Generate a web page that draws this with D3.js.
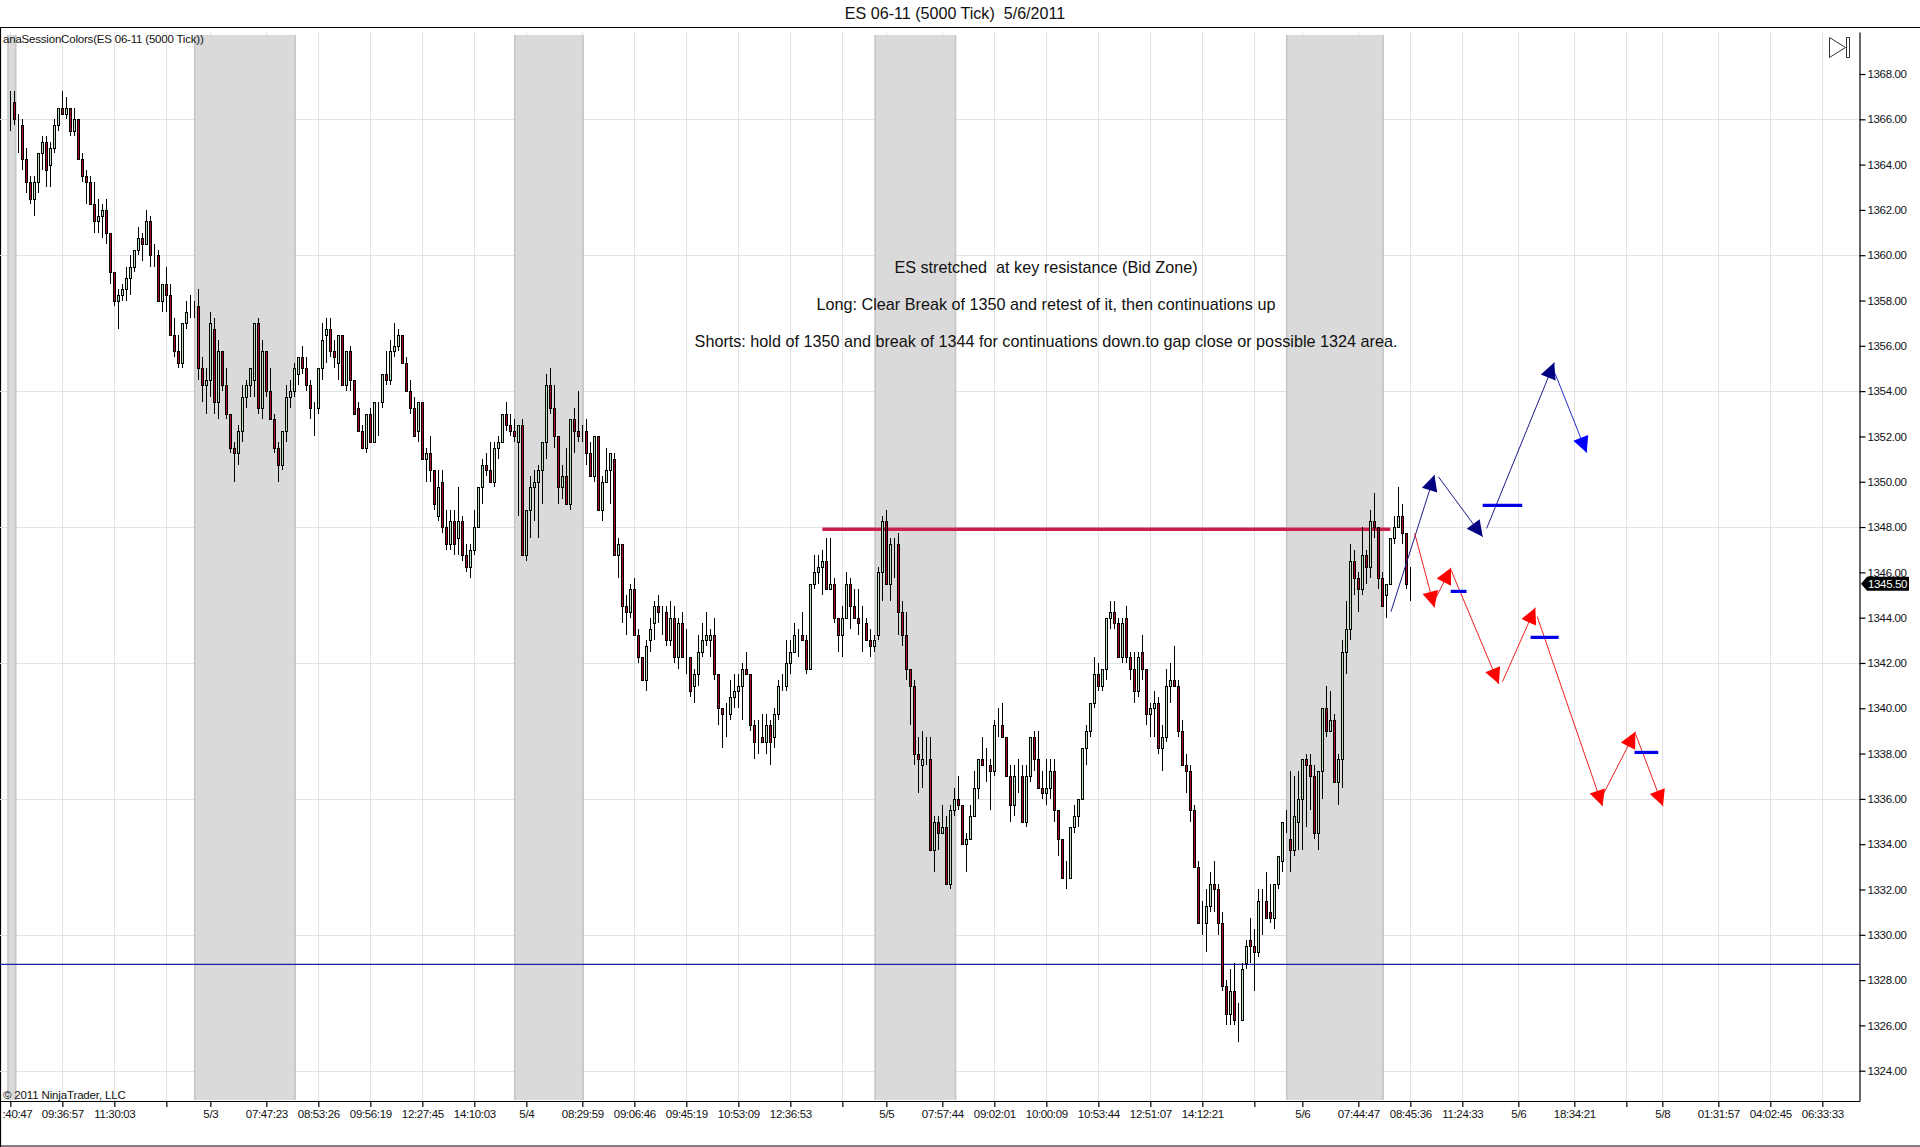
<!DOCTYPE html>
<html>
<head>
<meta charset="utf-8">
<title>ES 06-11 (5000 Tick) 5/6/2011</title>
<script src="https://cdn.jsdelivr.net/npm/d3@7"></script>
<style>
  html, body { margin: 0; padding: 0; background: #fff; }
  svg { display: block; }
  text { font-family: "Liberation Sans", Arial, sans-serif; fill: #111; }
  .tick text { font-size: 11.5px; letter-spacing: -0.35px; }
</style>
</head>
<body>
<div id="chart"></div>
<script>
// bar data (0.25 tick size)
const opens = [
  1366.75,1366.75,1365.75,1365.75,1364.25,1363.25,1362.5,1363.25,1364.5,1365,
  1364,1364.75,1365.75,1366.5,1366.25,1366.5,1365.5,1366,1364.25,1363.5,
  1363.25,1362.25,1361.5,1361.75,1362,1361,1359.25,1358,1358.25,1358.5,
  1359,1359.5,1360.25,1360.75,1360.5,1361.5,1360,1360,1358,1358.75,
  1358.25,1356.5,1355.75,1355.25,1357,1357.75,1357.75,1357.75,1355,1354.25,
  1354.5,1356.75,1353.5,1355.75,1354.25,1353,1351.5,1351.25,1352.25,1353.75,
  1354.25,1354.5,1357,1353.25,1355.75,1354,1352.75,1351.5,1350.75,1352.25,
  1353.75,1354,1354.75,1355.5,1355,1354.25,1353.25,1353.25,1355,1356.5,
  1356.75,1355.75,1355.25,1356.5,1354.25,1355.75,1354.5,1353.25,1352.25,1351.5,
  1353,1351.75,1353.5,1353.5,1354.75,1354.5,1355.75,1356,1356.5,1355.25,
  1354,1353.25,1352.25,1353.5,1351,1351.25,1350.5,1348.5,1350,1348,
  1347.25,1348.25,1347.5,1348.25,1346.75,1346.25,1347,1348,1349.75,1350.75,
  1350.5,1350,1351.5,1351.75,1353,1352.5,1352.25,1351.75,1352.5,1346.75,
  1348.75,1349.75,1350,1350.5,1351.75,1354.25,1353.25,1352,1349.75,1350.25,
  1349,1352.75,1352.25,1352,1352.25,1351.25,1350.25,1352,1348.75,1350,
  1350.5,1351,1346.75,1347.25,1344.5,1344.25,1345.25,1343.25,1342.25,1341.25,
  1343,1343.75,1344.5,1344.25,1344.25,1343,1344,1342.25,1343.75,1342.25,
  1342.25,1341,1341.5,1342.5,1343,1343,1343.25,1341.5,1340,1339.75,
  1339.75,1340.5,1340.75,1341,1341.75,1341.5,1339.25,1338.5,1338.75,1338.5,
  1339.25,1338.75,1339.75,1341,1341,1342,1342.5,1343.25,1343.25,1343,
  1341.75,1345.5,1346,1346.25,1346.5,1345.25,1345.5,1344,1343.25,1344,
  1345.5,1344.5,1344,1343.75,1343.75,1343,1342.75,1343.25,1346,1348.25,
  1345.5,1347.25,1347.25,1344.25,1343.25,1341.75,1341,1338,1337.5,1337.75,
  1337.75,1333.75,1335,1334.5,1334.75,1332.25,1335.5,1336,1335.75,1334,
  1334.25,1335.25,1336.5,1337.75,1337.5,1337.5,1337.25,1339.25,1339.25,1338.75,
  1337,1335.75,1337,1337,1335,1337,1338.75,1337.75,1336.5,1336.25,
  1336.5,1337.25,1335.5,1334.25,1332.5,1332.5,1334.75,1335.25,1336,1338.25,
  1339,1340.25,1341.5,1341,1341.75,1344,1344.25,1343.75,1342.25,1344,
  1342.25,1341.75,1340.75,1342.5,1341.75,1339.75,1340,1340.25,1338.25,1338.75,
  1341,1341.25,1341,1339,1337.5,1337.25,1335.5,1333,1330.5,1330.5,
  1331.25,1332.25,1332,1330.5,1327.75,1326.5,1327.5,1326.25,1326.25,1328.75,
  1329.75,1329.5,1329.25,1331.5,1331.5,1331,1330.75,1332.25,1333.25,1335,
  1334.25,1333.75,1335,1336,1337.75,1337.5,1337,1334.5,1337.25,1340,
  1339,1339.5,1336.75,1337.75,1342.5,1343.5,1346.5,1345.75,1345.25,1346.75,
  1346.25,1348.25,1348,1345.75,1345,1345.5,1347.5,1348,1348.5,1347.75,
  1345.5
];
const highs = [
  1367.25,1367.25,1366.25,1366,1364.75,1363.5,1363.5,1364.5,1365.25,1365.25,
  1365,1366,1366.5,1367.25,1367,1366.5,1366.5,1366,1364.5,1363.75,
  1363.5,1363.25,1362.5,1362.25,1362.5,1361,1359.25,1358.5,1358.75,1359.5,
  1360,1360.25,1361.25,1361,1362,1361.75,1360.5,1360.25,1358.75,1359.5,
  1358.75,1357.25,1356.5,1357,1358,1358.25,1358,1358.5,1355.5,1355,
  1357.5,1357.25,1356.25,1355.75,1355,1353,1351.75,1352.5,1354.25,1354.5,
  1355,1357,1357.25,1356.25,1355.75,1355,1353,1351.75,1352.25,1354.25,
  1354.5,1355.25,1355.5,1356,1355.5,1354.5,1353.5,1355,1357,1357.25,
  1357.25,1356.25,1356.5,1356.5,1355.75,1356,1354.5,1353.5,1352.5,1353,
  1353.25,1353.5,1353.5,1354.75,1355.75,1356.25,1357,1356.75,1356.5,1355.5,
  1354.5,1353.75,1353.5,1353.5,1351.5,1352,1350.5,1350.5,1350.5,1348.75,
  1348.75,1348.75,1349.75,1348.5,1347.25,1347.25,1348.75,1349.75,1351,1351.25,
  1351.75,1351.75,1352,1353,1353.5,1353,1352.75,1352.5,1352.75,1348.75,
  1350.25,1350.5,1350.75,1351.75,1354.75,1355,1354.25,1352,1350.75,1351.5,
  1352.75,1353.25,1354,1352.5,1352.75,1351.75,1352,1352,1350.25,1351.5,
  1351.25,1351.25,1347.5,1347.25,1345,1345.5,1345.75,1343.5,1342.25,1343,
  1344,1344.75,1345,1344.5,1344.5,1344.75,1344.5,1344,1344.25,1343.5,
  1342.25,1341.75,1343.25,1343.75,1344.25,1343.5,1344,1341.5,1340,1340.25,
  1341.25,1341.5,1341.5,1342,1342.5,1341.5,1339.5,1339.5,1339.75,1339.75,
  1339.5,1340,1341.25,1341.5,1343,1343,1343.75,1343.5,1344.25,1343.25,
  1345.5,1346.75,1346.75,1347,1347.5,1347.5,1345.75,1344,1344.5,1346,
  1345.75,1345.25,1345.25,1344.5,1344,1343.5,1343.25,1346.25,1348.5,1348.75,
  1347.5,1347.5,1347.75,1344.75,1344.25,1341.75,1341.25,1338.75,1339,1338.75,
  1338.75,1335.25,1335.25,1335.75,1335.25,1335.75,1336.5,1337,1335.75,1334.5,
  1335.75,1337.25,1337.75,1338.75,1338.25,1337.75,1339.5,1340,1340.25,1338.75,
  1337.5,1337.5,1337.75,1337.5,1337.5,1338.75,1339,1339,1337.25,1337.75,
  1337.75,1337.75,1335.5,1334.25,1333.25,1334.75,1335.75,1336,1338.25,1339.25,
  1340.25,1342.25,1342,1341.75,1344,1344.75,1344.75,1344,1344,1344.5,
  1342.5,1342.5,1342.5,1343.25,1341.75,1340.25,1340.75,1340.5,1339.25,1341.75,
  1342,1342.75,1341.25,1339.5,1338,1337.5,1335.75,1333.25,1331.5,1332,
  1332.75,1333.25,1332.25,1331,1328,1328.5,1328.75,1327,1328.75,1329.75,
  1330.75,1330.25,1332,1332,1332.75,1332.25,1332.25,1333.5,1335,1335.5,
  1337.25,1337,1337.25,1337.75,1338,1338,1337.5,1337.25,1340,1341,
  1340.75,1339.75,1338,1343,1344.75,1347.25,1347,1346,1348,1347,
  1348.75,1349.5,1348,1346,1345.5,1347.5,1348.5,1349.75,1349,1347.75,
  1346.25
];
const lows = [
  1365.5,1365.75,1364.5,1363.75,1362.75,1362.25,1361.75,1362.75,1363.75,1363,
  1363,1364.5,1365.5,1366.25,1366,1365.25,1365.25,1364.25,1363.25,1362.25,
  1362.25,1361,1361,1360.75,1360.5,1358.75,1357.75,1356.75,1358,1358,
  1358.25,1359.25,1360,1359.75,1360.5,1359.5,1359.5,1358,1357.5,1357.5,
  1356.5,1355.5,1355,1355,1356.75,1357.25,1357.25,1354.5,1353.5,1353,
  1353.75,1353,1352.75,1354,1352.75,1351.25,1350,1350.75,1351.75,1353.25,
  1353.75,1353.75,1353,1352.75,1353.75,1352.75,1351.25,1350,1350.5,1351.75,
  1353.25,1353.75,1354.25,1354.75,1354,1352.75,1352,1353,1354.5,1355.25,
  1355.5,1355,1354.5,1354.25,1354,1354,1353,1352.25,1351.5,1351.25,
  1351.75,1351.75,1352,1353.25,1354.25,1354.25,1355.5,1355.75,1355.25,1354,
  1353,1352,1351.75,1351,1350,1350,1348.75,1348.25,1347.75,1347,
  1347,1346.75,1346.75,1346.5,1346,1345.75,1346.75,1348,1349,1350.25,
  1350,1349.75,1351,1351.75,1352.25,1352,1351.75,1348.5,1346.75,1346.5,
  1347.5,1348.25,1347.5,1349,1351,1353,1351.5,1349,1349.25,1349,
  1348.75,1351.25,1351.75,1351.75,1350.75,1350.25,1350,1348.75,1348.25,1350,
  1349,1346.75,1345.75,1343.75,1343.25,1344,1343.25,1342,1341.25,1340.75,
  1342.5,1343,1343.75,1343.25,1342.75,1342.75,1342,1341.75,1342.25,1341.5,
  1340.5,1340.25,1341,1342.25,1342.75,1342.25,1341.25,1339.25,1338.25,1338.75,
  1339.5,1340,1340,1339.5,1341.5,1339,1337.75,1338,1338.5,1338,
  1337.5,1338.25,1339.5,1340.75,1340.75,1341.5,1342.5,1342.25,1343,1341.5,
  1341.75,1345.25,1345.5,1345,1345.25,1345.25,1343.75,1342.5,1342.25,1344,
  1343.5,1344,1343.25,1342.5,1343,1342.25,1342.5,1343,1344.75,1345.5,
  1344.75,1345.75,1343.25,1342.75,1341.25,1339.25,1337.5,1336.25,1336.5,1337.5,
  1333.75,1332.75,1333.75,1334.5,1332.25,1332,1335.25,1335.5,1334,1332.75,
  1334.25,1335.25,1336,1337.5,1336.75,1335.5,1337,1338.75,1338.75,1337,
  1335,1335.25,1336.25,1335,1334.75,1336.75,1337.25,1336.5,1336,1335.75,
  1336,1335,1333.5,1332.5,1332,1332.5,1334.5,1334.75,1336,1337.5,
  1338.75,1340,1340.75,1340.75,1341.25,1343.5,1343.5,1342.25,1342,1342,
  1341.25,1340.25,1340.5,1341.25,1339.25,1338.75,1338.75,1338,1337.25,1338.5,
  1340.25,1341,1338.75,1337.5,1336.25,1335,1333,1330.5,1330,1329.25,
  1331,1331,1330,1327.5,1326,1326,1326,1325.25,1326.25,1328.5,
  1328.75,1327.5,1329,1330,1330.75,1330.5,1330.25,1332,1332.75,1334.5,
  1332.75,1333.5,1333.75,1333.75,1334.75,1335.5,1334.25,1333.75,1336,1338.75,
  1339,1336.75,1335.75,1336.5,1341.5,1343,1345,1344.25,1345,1345.5,
  1345.75,1347.5,1345.25,1344.5,1344,1345.5,1347.25,1348,1347.25,1345.25,
  1344.75
];
const closes = [
  1366.75,1366,1365.75,1364.25,1363.25,1362.5,1363.25,1364.5,1365,1363.75,
  1364.75,1365.75,1366.5,1366.25,1366.5,1365.5,1366,1364.25,1363.5,1363.25,
  1362.25,1361.5,1361.75,1362,1361,1359.25,1358,1358.25,1358.5,1359,
  1359.5,1360.25,1360.75,1360.5,1361.5,1360,1360,1358,1358.75,1358.25,
  1356.5,1355.75,1355.25,1357,1357.5,1357.75,1357.75,1355,1354.25,1354.5,
  1357,1353.5,1355.75,1354.25,1353,1351.5,1351.25,1352.25,1353.75,1354.25,
  1355,1357,1353.25,1355.75,1354,1352.75,1351.5,1350.75,1352.25,1353.75,
  1354,1355,1355.5,1355,1354.25,1353.25,1353.25,1355,1356.25,1356.75,
  1355.75,1355.5,1356.5,1354.25,1355.75,1354.5,1353,1352.25,1351.5,1353,
  1351.75,1353.5,1353.5,1354.75,1354.5,1355.75,1356,1356.5,1355.25,1354,
  1353.25,1352,1353.5,1351,1351.25,1350.5,1349,1349.75,1348,1347.25,
  1348.25,1347.25,1348.25,1346.75,1346.25,1347,1348,1349.75,1350.75,1350.5,
  1350,1351.5,1351.75,1353,1352.5,1352.25,1352,1352.5,1346.75,1348.75,
  1349.75,1350,1350.5,1351.75,1354.25,1353.25,1352,1349.75,1350.25,1349,
  1352.75,1352.25,1352,1352,1351.25,1350.25,1352,1348.75,1350,1350.5,
  1351.25,1346.75,1347.25,1344.5,1344.25,1345.25,1343.25,1342.25,1341.25,1342.75,
  1343.5,1344.5,1344.25,1344.25,1343,1344,1342.25,1343.75,1342.25,1342.25,
  1340.75,1341.5,1342.5,1343,1343.25,1343.25,1341.5,1340,1339.75,1339.75,
  1340.5,1340.75,1341,1341.75,1341.5,1339.25,1338.5,1338.5,1338.5,1339.25,
  1338.5,1339.75,1341,1341,1342,1342.5,1343.25,1343.25,1343,1341.75,
  1345.5,1346,1346.25,1346.5,1345.25,1345.5,1344,1343.25,1344,1345.5,
  1344.5,1344,1343.75,1343.75,1343,1342.75,1343,1346,1348.25,1345.5,
  1347.25,1347.25,1344.25,1343.25,1341.75,1341,1338,1337.75,1337.75,1337.75,
  1333.75,1335,1334.5,1334.75,1332.25,1335.5,1336,1335.75,1334,1334.25,
  1335.25,1336.5,1337.75,1337.5,1337.5,1337.25,1339.25,1339.25,1338.75,1337,
  1335.75,1337,1337,1335,1337,1338.75,1337.75,1336.5,1336.25,1336.5,
  1337.25,1335.5,1334.25,1332.5,1332.5,1334.75,1335.25,1336,1338.25,1339,
  1340.25,1341.5,1341,1341.75,1344,1344.25,1343.75,1342.25,1343.75,1342.25,
  1341.75,1340.75,1342.25,1341.75,1339.75,1340,1340.25,1338.25,1338.75,1341,
  1341.25,1341,1339,1337.5,1337.25,1335.5,1333,1330.5,1330.5,1331.25,
  1332.25,1332,1330.5,1327.75,1326.5,1327.5,1326.25,1326.25,1328.5,1329.5,
  1329.5,1329.25,1331.5,1331.5,1330.75,1330.75,1332.25,1333.5,1335,1335,
  1333.75,1335.25,1336,1337.75,1337.5,1337,1334.5,1337.25,1340,1339,
  1339.5,1336.75,1337.75,1342.5,1343.5,1346.5,1345.75,1345.25,1346.75,1346.25,
  1348.25,1348,1345.75,1344.5,1345.5,1347.5,1348,1348.5,1347.75,1345.5,
  1345.5
];

// time axis, positions are bar numbers
const timeTicks = [0,13,26,39,50,64,77,90,103,116,129,143,156,169,182,195,208,219,233,246,259,272,285,298,311,323,337,350,363,377,391,404,413,427,440,453];
const timeLabels = [":40:47","09:36:57","11:30:03","","5/3","07:47:23","08:53:26","09:56:19","12:27:45","14:10:03","5/4","08:29:59","09:06:46","09:45:19","10:53:09","12:36:53","","5/5","07:57:44","09:02:01","10:00:09","10:53:44","12:51:07","14:12:21","","5/6","07:44:47","08:45:36","11:24:33","5/6","18:34:21","","5/8","01:31:57","04:02:45","06:33:33"];
const priceTicks = d3.range(1324, 1369, 2);
const priceGrid = d3.range(1324, 1367, 6);

// session shading, start and end in bars
const sessionStarts = [-0.6, 46.1, 126.1, 216.2, 319.1];
const sessionEnds = [1.35, 71.2, 143.2, 236.3, 343.2];

// drawn lines: [bar, price, bar, price]
const supportPrice = 1328.69;
const resistance = [203, 1347.9, 345, 1347.9];
const navyArrows = [
  [345.15, 1344.26, 356.03, 1350.3],
  [357.02, 1350.22, 368.09, 1347.57],
  [369.08, 1347.94, 385.98, 1355.26]
];
const blueArrows = [[386.18, 1354.78, 394.09, 1351.28]];
const redArrows = [
  [351.09, 1347.72, 356.03, 1344.45],
  [356.52, 1344.92, 360.18, 1346.2],
  [360.18, 1346.1, 372.14, 1341.07],
  [373.03, 1341.17, 381.24, 1344.44],
  [381.73, 1344.04, 398.04, 1335.68],
  [398.34, 1336.24, 406.25, 1338.96],
  [406.25, 1338.89, 413.17, 1335.68]
];
const blueDashes = [
  [368.09, 1348.96, 377.97, 1348.96],
  [360.08, 1345.16, 364.04, 1345.16],
  [380.05, 1343.13, 387.07, 1343.13],
  [406.05, 1338.05, 411.98, 1338.05]
];
const lastPrice = 1345.5;

const noteLines = [
  "ES stretched  at key resistance (Bid Zone)",
  "Long: Clear Break of 1350 and retest of it, then continuations up",
  "Shorts: hold of 1350 and break of 1344 for continuations down.to gap close or possible 1324 area."
];

const outerWidth = 1920;
const outerHeight = 1147;
const plot = { left: 0, right: 1859.5, top: 32, bottom: 1101 };

const svg = d3.select("#chart")
  .append("svg")
  .attr("width", outerWidth)
  .attr("height", outerHeight);

const x = d3.scaleLinear().domain([0, 453]).range([10.33, 1822.33]);
const y = d3.scaleLinear().domain([1324, 1368]).range([1070.7, 74]);
const px = i => Math.round(x(i));

// Outer frame
svg.append("path")
  .attr("d", `M0.5,${outerHeight} V27.5 H${outerWidth} M0,1146 H${outerWidth}`)
  .attr("fill", "none")
  .attr("stroke", "#000")
  .attr("stroke-width", 1.2);

// Grid
const grid = svg.append("g").attr("stroke", "#e2e2e2").attr("stroke-width", 1).attr("shape-rendering", "crispEdges");
grid.selectAll("line.v")
  .data(timeTicks)
  .join("line")
  .attr("class", "v")
  .attr("x1", d => px(d) + 0.5)
  .attr("x2", d => px(d) + 0.5)
  .attr("y1", plot.top)
  .attr("y2", plot.bottom);
grid.selectAll("line.h")
  .data(priceGrid)
  .join("line")
  .attr("class", "h")
  .attr("x1", plot.left)
  .attr("x2", plot.right)
  .attr("y1", d => Math.round(y(d)) + 0.5)
  .attr("y2", d => Math.round(y(d)) + 0.5);

// Session shading, grid only just shows through
const sessions = svg.append("g");
sessions.selectAll("rect")
  .data(sessionStarts)
  .join("rect")
  .attr("x", d => x(d))
  .attr("width", (d, i) => x(sessionEnds[i]) - x(d))
  .attr("y", 35)
  .attr("height", 1065)
  .attr("fill", "#d9d9d9")
  .attr("fill-opacity", 0.97);
sessions.selectAll("path")
  .data(sessionStarts)
  .join("path")
  .attr("d", (d, i) => `M${x(d)},35 V1100 M${x(sessionEnds[i])},35 V1100`)
  .attr("stroke", "#c6c6c6")
  .attr("stroke-width", 1.6)
  .attr("fill", "none");

// Fixed lines sit below the bars
svg.append("line")
  .attr("x1", plot.left)
  .attr("x2", plot.right)
  .attr("y1", y(supportPrice))
  .attr("y2", y(supportPrice))
  .attr("stroke", "#1f1fa8")
  .attr("stroke-width", 1.2);
svg.append("line")
  .attr("x1", x(resistance[0]))
  .attr("x2", x(resistance[2]))
  .attr("y1", y(resistance[1]))
  .attr("y2", y(resistance[3]))
  .attr("stroke", "#c9214b")
  .attr("stroke-width", 3.6);

// Candles
const bars = svg.append("g").attr("shape-rendering", "crispEdges");
bars.selectAll("line.wick")
  .data(opens)
  .join("line")
  .attr("class", "wick")
  .attr("x1", (d, i) => px(i) + 0.5)
  .attr("x2", (d, i) => px(i) + 0.5)
  .attr("y1", (d, i) => y(highs[i]))
  .attr("y2", (d, i) => y(lows[i]))
  .attr("stroke", "#000");
bars.selectAll("rect")
  .data(opens)
  .join("rect")
  .attr("x", (d, i) => px(i) - 0.5)
  .attr("width", 2)
  .attr("y", (d, i) => Math.round(y(Math.max(d, closes[i]))) + 0.5)
  .attr("height", (d, i) => Math.round(y(Math.min(d, closes[i]))) - Math.round(y(Math.max(d, closes[i]))))
  .attr("fill", (d, i) => (closes[i] >= d ? "#b6e0b6" : "#a01020"))
  .attr("stroke", "#000");

// Arrows: a thin line and a triangle at the far end
function drawArrows(rows, lineColor, headColor) {
  const g = svg.append("g");
  g.selectAll("line")
    .data(rows)
    .join("line")
    .attr("x1", d => x(d[0]))
    .attr("y1", d => y(d[1]))
    .attr("x2", d => x(d[2]))
    .attr("y2", d => y(d[3]))
    .attr("stroke", lineColor)
    .attr("stroke-width", 1);
  g.selectAll("path")
    .data(rows)
    .join("path")
    .attr("fill", headColor)
    .attr("d", d => {
      const tipX = x(d[2]), tipY = y(d[3]);
      const a = Math.atan2(tipY - y(d[1]), tipX - x(d[0]));
      const len = 16, half = 8;
      const bx = tipX - len * Math.cos(a), by = tipY - len * Math.sin(a);
      const nx = -Math.sin(a) * half, ny = Math.cos(a) * half;
      return `M${tipX},${tipY} L${bx + nx},${by + ny} L${bx - nx},${by - ny} Z`;
    });
}
drawArrows(navyArrows, "#1c1c8c", "#000080");
drawArrows(blueArrows, "#2030d0", "#0000ff");
drawArrows(redArrows, "#f02020", "#ff0000");

svg.append("g")
  .selectAll("line")
  .data(blueDashes)
  .join("line")
  .attr("x1", d => x(d[0]))
  .attr("y1", d => y(d[1]))
  .attr("x2", d => x(d[2]))
  .attr("y2", d => y(d[3]))
  .attr("stroke", "#0000e6")
  .attr("stroke-width", 3.2);

// Axes
const yAxisScale = y.copy().domain([y.invert(plot.bottom), y.invert(plot.top)]).range([plot.bottom, plot.top]);
const yAxisG = svg.append("g")
  .attr("transform", `translate(${plot.right},0)`)
  .call(d3.axisRight(yAxisScale).tickValues(priceTicks).tickFormat(d3.format(".2f")).tickSize(6).tickSizeOuter(0).tickPadding(2));

const xAxisScale = d3.scaleLinear()
  .domain([x.invert(0), x.invert(plot.right)])
  .range([0, plot.right]);
const xAxisG = svg.append("g")
  .attr("transform", `translate(0,${plot.bottom})`)
  .call(d3.axisBottom(xAxisScale).tickValues(timeTicks).tickFormat((d, i) => timeLabels[i]).tickSize(6).tickSizeOuter(0).tickPadding(3));

[yAxisG, xAxisG].forEach(a => {
  a.attr("font-family", null).attr("font-size", null);
  a.selectAll("path, line").attr("stroke", "#000").attr("stroke-width", 1.2);
});
xAxisG.selectAll(".tick text").attr("fill", "#222");
yAxisG.selectAll(".tick text").attr("fill", "#222");
// first label is cut by the window edge in the original
xAxisG.select(".tick text").attr("text-anchor", "start").attr("x", 2 - x(0));

// Current price flag
const flagY = y(lastPrice);
svg.append("path")
  .attr("d", `M1861,${flagY} L1867,${flagY - 7} H1909 V${flagY + 7} H1867 Z`)
  .attr("fill", "#000");
svg.append("text")
  .attr("x", 1868)
  .attr("y", flagY + 4)
  .attr("font-size", 11.5)
  .attr("letter-spacing", "-0.35px")
  .style("fill", "#fff")
  .text(d3.format(".2f")(lastPrice));

// Titles and notes
svg.append("text")
  .attr("x", 955)
  .attr("y", 19)
  .attr("text-anchor", "middle")
  .attr("font-size", 16.1)
  .style("white-space", "pre")
  .text("ES 06-11 (5000 Tick)  5/6/2011");

svg.append("g")
  .selectAll("text")
  .data(noteLines)
  .join("text")
  .attr("x", 1046)
  .attr("y", (d, i) => 272.5 + i * 37)
  .attr("text-anchor", "middle")
  .attr("font-size", 16.2)
  .style("white-space", "pre")
  .text(d => d);

svg.append("text")
  .attr("x", 3)
  .attr("y", 43)
  .attr("font-size", 11.5)
  .attr("letter-spacing", "-0.2px")
  .text("anaSessionColors(ES 06-11 (5000 Tick))");

svg.append("text")
  .attr("x", 3)
  .attr("y", 1099)
  .attr("font-size", 11.5)
  .attr("letter-spacing", "-0.15px")
  .text("© 2011 NinjaTrader, LLC");

// Scroll to end icon
svg.append("path")
  .attr("d", "M1829.5,37.5 V57.5 L1845.5,47.5 Z M1846.5,37.5 H1849.5 V57.5 H1846.5 Z")
  .attr("fill", "none")
  .attr("stroke", "#333")
  .attr("stroke-width", 1);
</script>
</body>
</html>
